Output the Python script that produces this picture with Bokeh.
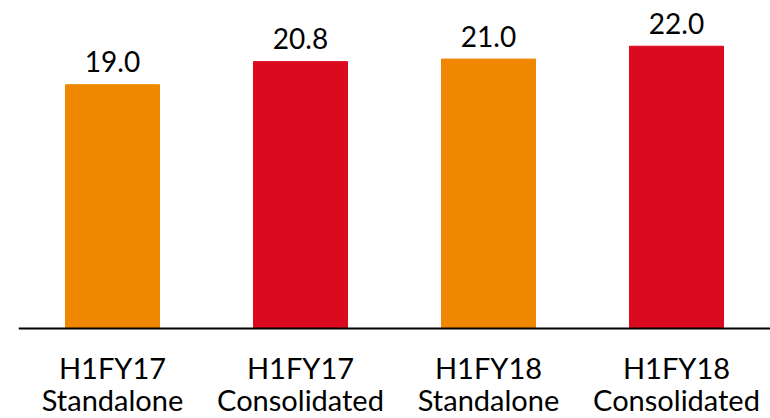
from bokeh.plotting import figure
from bokeh.models import ColumnDataSource, FactorRange, Range1d, Span
from bokeh.core.properties import value
from bokeh.embed import file_html
from bokeh.resources import INLINE

periods = ["H1FY17", "H1FY17", "H1FY18", "H1FY18"]
entities = ["Standalone", "Consolidated", "Standalone", "Consolidated"]
categories = [f"{a} {b}" for a, b in zip(periods, entities)]
values = [19.0, 20.8, 21.0, 22.0]
colors = ["#F08700", "#DC0A1E", "#F08700", "#DC0A1E"]
labels = ["19.0", "20.8", "21.0", "22.0"]

src = ColumnDataSource(dict(cat=categories, val=values, color=colors, label=labels,
                            zero=[0] * 4, period=periods, entity=entities))

p = figure(x_range=FactorRange(*categories, range_padding=0), y_range=Range1d(-7.015, 25.565),
           width=770, height=418, output_backend="svg", toolbar_location=None,
           min_border_left=18, min_border_right=0, min_border_top=0, min_border_bottom=0)
p.outline_line_color = None
p.axis.visible = False
p.grid.visible = False

p.vbar(x="cat", top="val", width=0.5, color="color", source=src)
p.add_layout(Span(location=0, dimension="width", line_color="#000000", line_width=2))

p.text(x="cat", y="val", text="label", source=src, text_align="center", text_baseline="alphabetic",
       y_offset=-23, text_font=value("Lato"), text_font_size="28px", text_color="#000000")
p.text(x="cat", y="zero", text="period", source=src, text_align="center", text_baseline="alphabetic",
       y_offset=39, text_font=value("Lato"), text_font_size="29px", text_color="#000000")
p.text(x="cat", y="zero", text="entity", source=src, text_align="center", text_baseline="alphabetic",
       y_offset=71, text_font=value("Lato"), text_font_size="29px", text_color="#000000")

open("out.html", "w").write(file_html(p, INLINE))
